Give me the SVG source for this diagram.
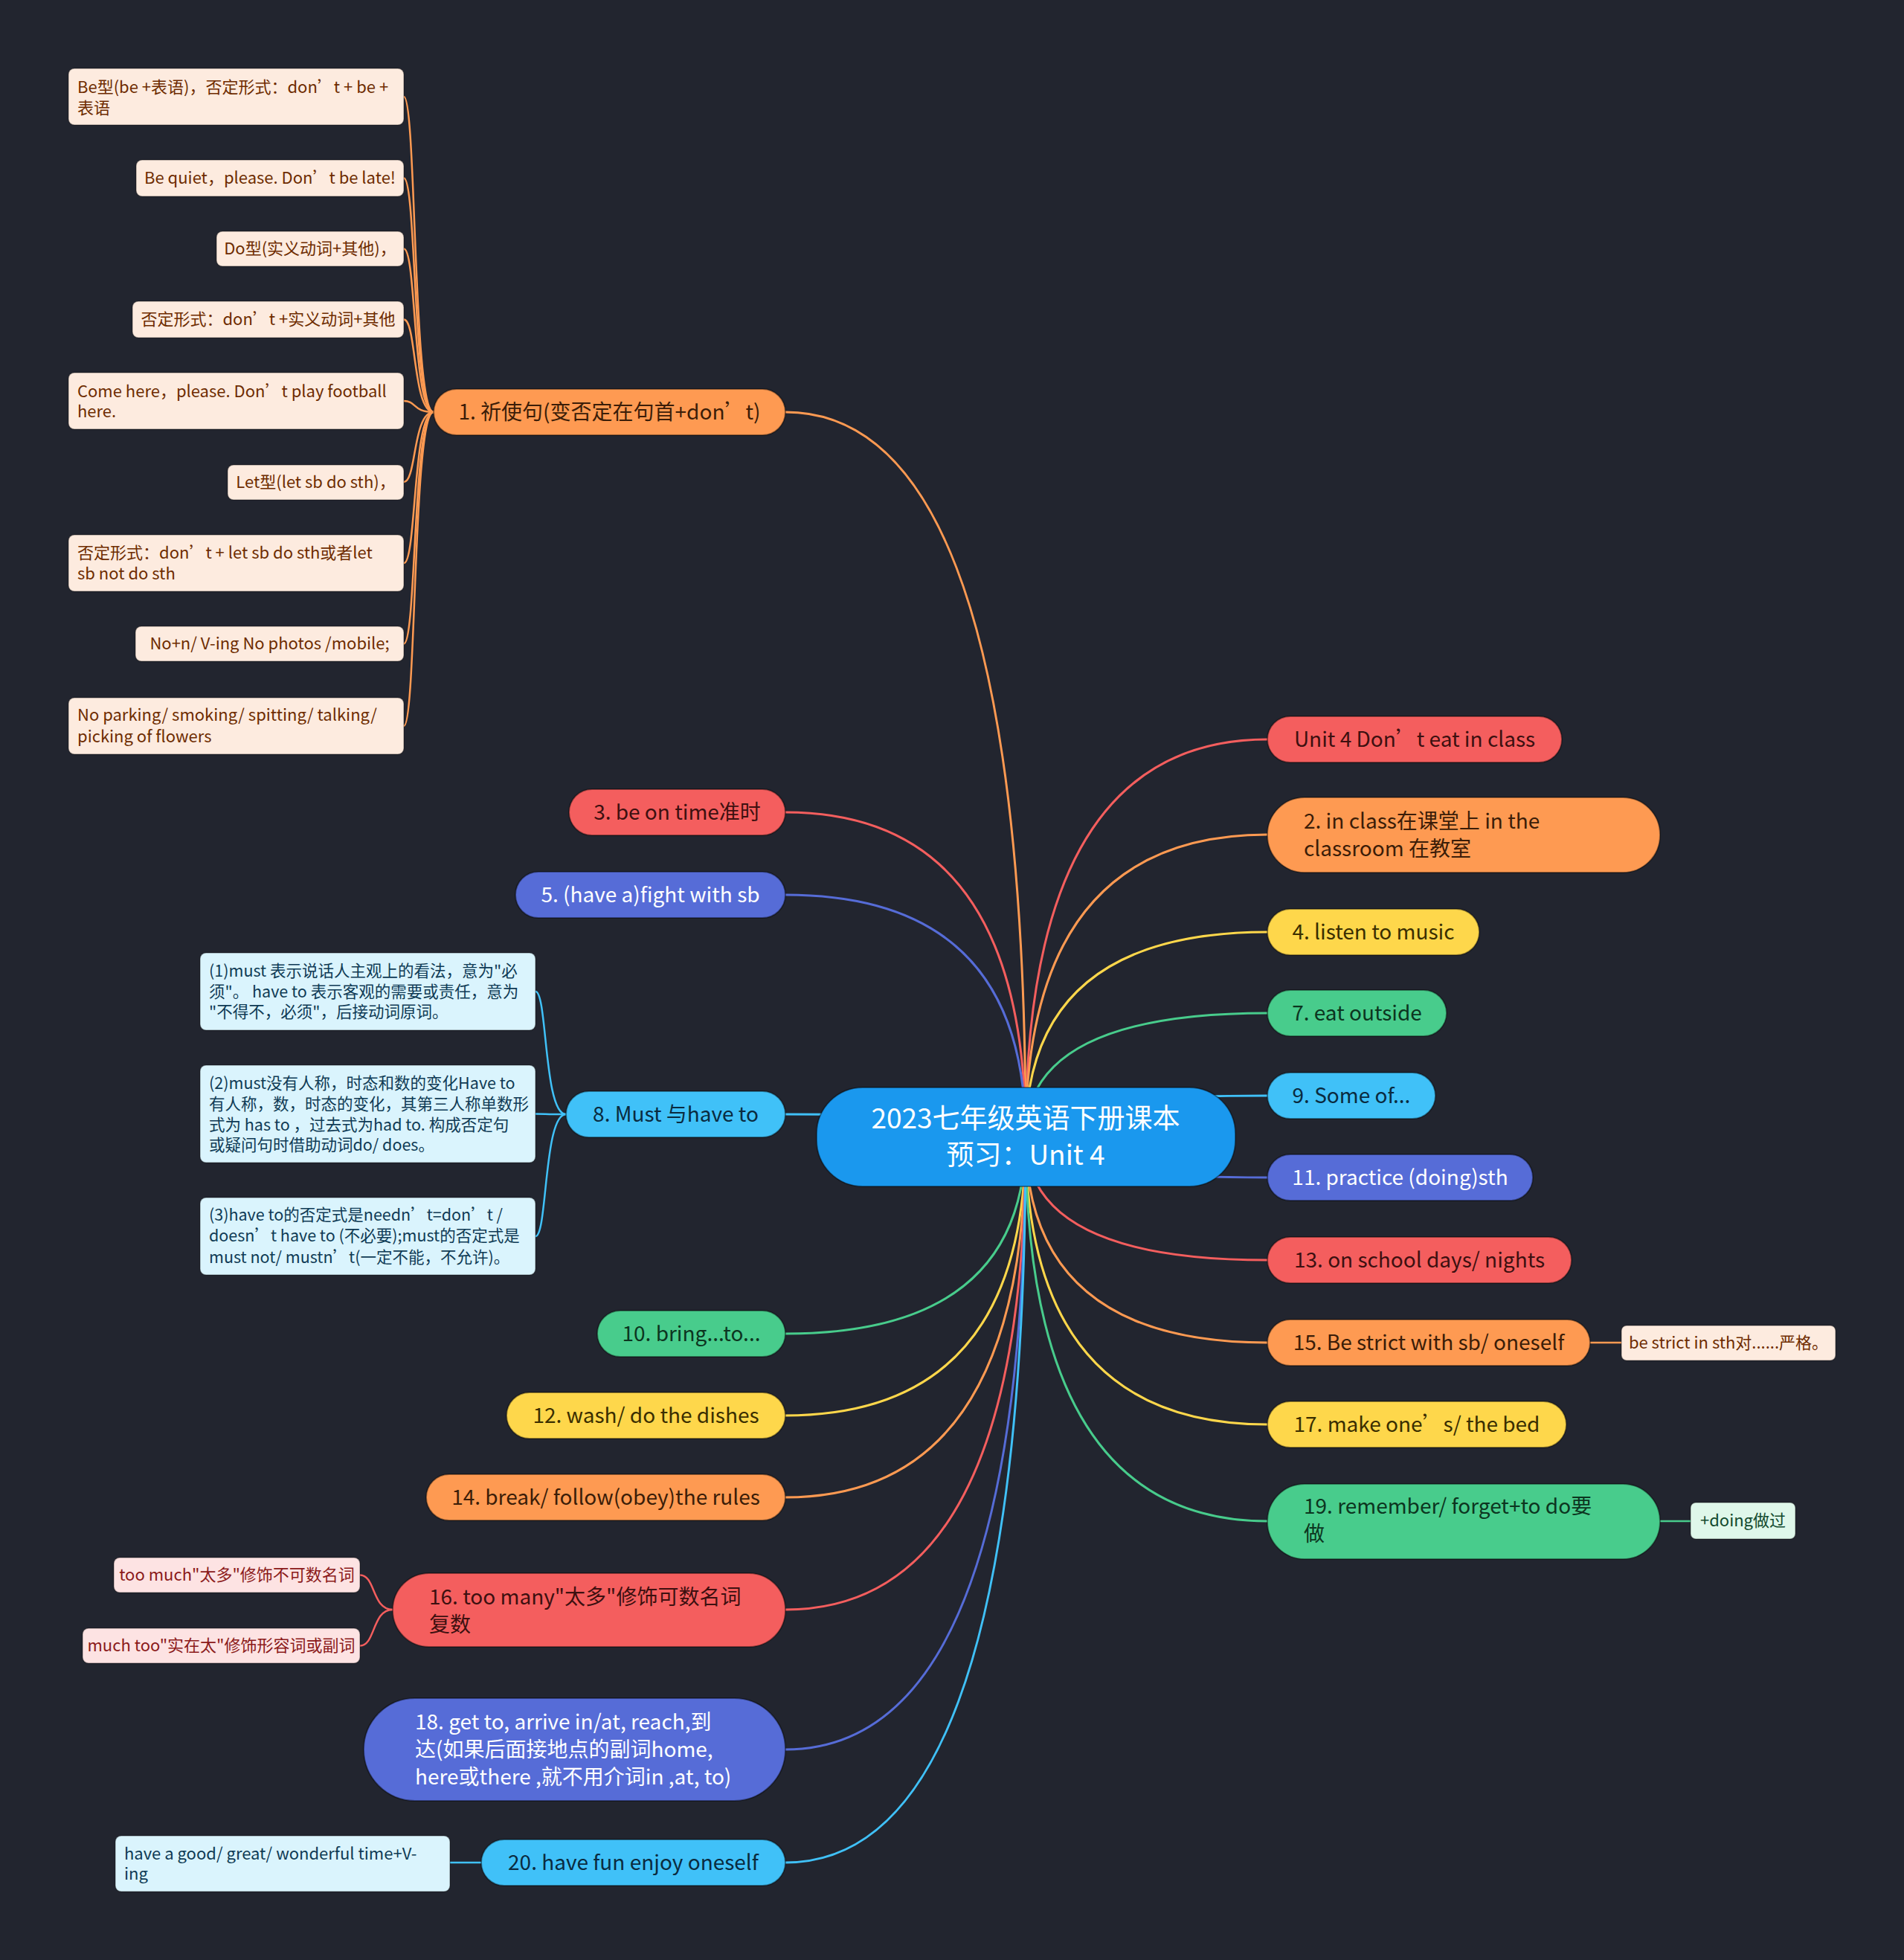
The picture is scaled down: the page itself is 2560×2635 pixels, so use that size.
<svg xmlns="http://www.w3.org/2000/svg" width="2560" height="2635" viewBox="0 0 2560 2635">
<style>
text{font-family:"Noto Sans CJK SC","Noto Sans",sans-serif}
.m{font-size:28px}
.c{font-size:37px;fill:#ffffff}
.l{font-size:22px}
.s{font-size:21.5px}
.mid{text-anchor:middle}
.red{fill:#f45e5e}
.ora{fill:#fe9a52}
.yel{fill:#fed74b}
.grn{fill:#48cc8c}
.lbl{fill:#40c1f8}
.ind{fill:#566cd7}
.nd{stroke:#000;stroke-opacity:.4;stroke-width:2}
.tr{fill:#3d1010}
.to{fill:#3b1d08}
.ty{fill:#3a2e00}
.tg{fill:#0c3520}
.tb{fill:#0a2b40}
.tw{fill:#ffffff}
.lo{fill:#fdebdf;stroke:#000;stroke-opacity:.3;stroke-width:1.5}
.lc{fill:#daf4fd;stroke:#000;stroke-opacity:.3;stroke-width:1.5}
.lp{fill:#fde3e3;stroke:#000;stroke-opacity:.3;stroke-width:1.5}
.lg{fill:#dff7ea;stroke:#000;stroke-opacity:.3;stroke-width:1.5}
.tlo{fill:#6e2c00}
.tlc{fill:#0f3b55}
.tlp{fill:#8b1a1a}
.tlg{fill:#124a2e}
.e{fill:none;stroke-width:3}
.se{fill:none;stroke-width:2.5}
</style>
<rect x="0" y="0" width="2560" height="2635" fill="#22252f"/>
<g id="connectors">
<path class="e" stroke="#f45e5e" d="M1379 1528 Q1379 994 1704 994"/>
<path class="e" stroke="#fe9a52" d="M1379 1528 Q1379 1122 1704 1122"/>
<path class="e" stroke="#fed74b" d="M1379 1528 Q1379 1253 1704 1253"/>
<path class="e" stroke="#48cc8c" d="M1379 1528 Q1379 1362 1704 1362"/>
<path class="e" stroke="#40c1f8" d="M1379 1528 Q1379 1473 1704 1473"/>
<path class="e" stroke="#566cd7" d="M1379 1528 Q1379 1583 1704 1583"/>
<path class="e" stroke="#f45e5e" d="M1379 1528 Q1379 1694 1704 1694"/>
<path class="e" stroke="#fe9a52" d="M1379 1528 Q1379 1805 1704 1805"/>
<path class="e" stroke="#fed74b" d="M1379 1528 Q1379 1915 1704 1915"/>
<path class="e" stroke="#48cc8c" d="M1379 1528 Q1379 2045 1704 2045"/>
<path class="e" stroke="#fe9a52" d="M1379 1528 Q1379 554 1056 554"/>
<path class="e" stroke="#f45e5e" d="M1379 1528 Q1379 1092 1056 1092"/>
<path class="e" stroke="#566cd7" d="M1379 1528 Q1379 1203 1056 1203"/>
<path class="e" stroke="#40c1f8" d="M1379 1528 Q1379 1498 1056 1498"/>
<path class="e" stroke="#48cc8c" d="M1379 1528 Q1379 1793 1056 1793"/>
<path class="e" stroke="#fed74b" d="M1379 1528 Q1379 1903 1056 1903"/>
<path class="e" stroke="#fe9a52" d="M1379 1528 Q1379 2013 1056 2013"/>
<path class="e" stroke="#f45e5e" d="M1379 1528 Q1379 2164 1056 2164"/>
<path class="e" stroke="#566cd7" d="M1379 1528 Q1379 2352 1056 2352"/>
<path class="e" stroke="#40c1f8" d="M1379 1528 Q1379 2504 1056 2504"/>
<g stroke="#fe9a52">
<path class="se" d="M583 554 C555 554 560 130 543 130"/>
<path class="se" d="M583 554 C555 554 560 239.5 543 239.5"/>
<path class="se" d="M583 554 C555 554 560 334.5 543 334.5"/>
<path class="se" d="M583 554 C555 554 560 429.5 543 429.5"/>
<path class="se" d="M583 554 C555 554 560 539 543 539"/>
<path class="se" d="M583 554 C555 554 560 648 543 648"/>
<path class="se" d="M583 554 C555 554 560 757 543 757"/>
<path class="se" d="M583 554 C555 554 560 865.5 543 865.5"/>
<path class="se" d="M583 554 C555 554 560 976 543 976"/>
<path class="se" d="M2138 1805 L2180 1805"/>
</g>
<g stroke="#40c1f8">
<path class="se" d="M761 1498 C731 1498 736 1333 720 1333"/>
<path class="se" d="M761 1498 C731 1498 736 1497.5 720 1497.5"/>
<path class="se" d="M761 1498 C731 1498 736 1662 720 1662"/>
<path class="se" d="M647 2504 L605 2504"/>
</g>
<g stroke="#f45e5e">
<path class="se" d="M528 2164 C500 2164 505 2117.5 484 2117.5"/>
<path class="se" d="M528 2164 C500 2164 505 2212.5 484 2212.5"/>
</g>
<path class="se" stroke="#48cc8c" d="M2232 2045 L2273 2045"/>
</g>
<g id="center">
<rect x="1098" y="1462" width="563" height="133" rx="62" fill="#1a98ee" class="nd"/>
<text class="c mid" x="1379" y="1517">2023七年级英语下册课本</text>
<text class="c mid" x="1379" y="1566">预习：Unit 4</text>
</g>
<g id="n-unit4"><rect class="red nd" x="1704" y="963" width="396" height="62" rx="31"/><text class="m mid tr" x="1902" y="1004">Unit 4 Don’t eat in class</text></g>
<g id="n2"><rect class="ora nd" x="1704" y="1072" width="528" height="101" rx="50"/><text class="m to" x="1753" y="1114">2. in class在课堂上 in the</text><text class="m to" x="1753" y="1151">classroom 在教室</text></g>
<g id="n4"><rect class="yel nd" x="1704" y="1222" width="285" height="62" rx="31"/><text class="m mid ty" x="1846.5" y="1263">4. listen to music</text></g>
<g id="n7"><rect class="grn nd" x="1704" y="1331" width="241" height="62" rx="31"/><text class="m mid tg" x="1824.5" y="1372">7. eat outside</text></g>
<g id="n9"><rect class="lbl nd" x="1704" y="1442" width="226" height="62" rx="31"/><text class="m mid tb" x="1817" y="1483">9. Some of...</text></g>
<g id="n11"><rect class="ind nd" x="1704" y="1552" width="357" height="62" rx="31"/><text class="m mid tw" x="1882.5" y="1593">11. practice (doing)sth</text></g>
<g id="n13"><rect class="red nd" x="1704" y="1663" width="409" height="62" rx="31"/><text class="m mid tr" x="1908.5" y="1704">13. on school days/ nights</text></g>
<g id="n15"><rect class="ora nd" x="1704" y="1774" width="434" height="62" rx="31"/><text class="m mid to" x="1921" y="1815">15. Be strict with sb/ oneself</text></g>
<g id="n15a"><rect class="lo" x="2180" y="1782" width="288" height="47" rx="7"/><text class="l mid tlo" x="2324" y="1813">be strict in sth对......严格。</text></g>
<g id="n17"><rect class="yel nd" x="1704" y="1884" width="402" height="62" rx="31"/><text class="m mid ty" x="1905" y="1925">17. make one’s/ the bed</text></g>
<g id="n19"><rect class="grn nd" x="1704" y="1995" width="528" height="101" rx="50"/><text class="m tg" x="1753" y="2035">19. remember/ forget+to do要</text><text class="m tg" x="1753" y="2072">做</text></g>
<g id="n19a"><rect class="lg" x="2273" y="2020" width="141" height="49" rx="7"/><text class="l mid tlg" x="2343.5" y="2052">+doing做过</text></g>
<g id="n1"><rect class="ora nd" x="583" y="523" width="473" height="62" rx="31"/><text class="m mid to" x="819.5" y="564">1. 祈使句(变否定在句首+don’t)</text></g>
<g id="n1a"><rect class="lo" x="92" y="92" width="451" height="76" rx="8"/><text class="l tlo" x="104" y="125">Be型(be +表语)，否定形式：don’t + be +</text><text class="l tlo" x="104" y="153">表语</text></g>
<g id="n1b"><rect class="lo" x="183" y="215" width="360" height="49" rx="8"/><text class="l mid tlo" x="363" y="247">Be quiet，please. Don’t be late!</text></g>
<g id="n1c"><rect class="lo" x="291" y="311" width="252" height="47" rx="8"/><text class="l mid tlo" x="417" y="342">Do型(实义动词+其他)，</text></g>
<g id="n1d"><rect class="lo" x="178" y="405" width="365" height="49" rx="8"/><text class="l mid tlo" x="360.5" y="437">否定形式：don’t +实义动词+其他</text></g>
<g id="n1e"><rect class="lo" x="92" y="501" width="451" height="76" rx="8"/><text class="l tlo" x="104" y="534">Come here，please. Don’t play football</text><text class="l tlo" x="104" y="561">here.</text></g>
<g id="n1f"><rect class="lo" x="306" y="625" width="237" height="47" rx="8"/><text class="l mid tlo" x="424.5" y="656">Let型(let sb do sth)，</text></g>
<g id="n1g"><rect class="lo" x="92" y="719" width="451" height="76" rx="8"/><text class="l tlo" x="104" y="751">否定形式：don’t + let sb do sth或者let</text><text class="l tlo" x="104" y="779">sb not do sth</text></g>
<g id="n1h"><rect class="lo" x="182" y="842" width="361" height="47" rx="8"/><text class="l mid tlo" x="362.5" y="873">No+n/ V-ing No photos /mobile;</text></g>
<g id="n1i"><rect class="lo" x="92" y="938" width="451" height="76" rx="8"/><text class="l tlo" x="104" y="969">No parking/ smoking/ spitting/ talking/</text><text class="l tlo" x="104" y="998">picking of flowers</text></g>
<g id="n3"><rect class="red nd" x="765" y="1061" width="291" height="62" rx="31"/><text class="m mid tr" x="910.5" y="1102">3. be on time准时</text></g>
<g id="n5"><rect class="ind nd" x="693" y="1172" width="363" height="62" rx="31"/><text class="m mid tw" x="874.5" y="1213">5. (have a)fight with sb</text></g>
<g id="n8"><rect class="lbl nd" x="761" y="1467" width="295" height="62" rx="31"/><text class="m mid tb" x="908.5" y="1508">8. Must 与have to</text></g>
<g id="n8a"><rect class="lc" x="269" y="1281" width="451" height="104" rx="8"/><text class="s tlc" x="281" y="1313">(1)must 表示说话人主观上的看法，意为"必</text><text class="s tlc" x="281" y="1341">须"。 have to 表示客观的需要或责任，意为</text><text class="s tlc" x="281" y="1368">"不得不，必须"，后接动词原词。</text></g>
<g id="n8b"><rect class="lc" x="269" y="1432" width="451" height="131" rx="8"/><text class="s tlc" x="281" y="1464">(2)must没有人称，时态和数的变化Have to</text><text class="s tlc" x="281" y="1492">有人称，数，时态的变化，其第三人称单数形</text><text class="s tlc" x="281" y="1520">式为 has to ，过去式为had to. 构成否定句</text><text class="s tlc" x="281" y="1547">或疑问句时借助动词do/ does。</text></g>
<g id="n8c"><rect class="lc" x="269" y="1610" width="451" height="104" rx="8"/><text class="s tlc" x="281" y="1641">(3)have to的否定式是needn’t=don’t /</text><text class="s tlc" x="281" y="1669">doesn’t have to (不必要);must的否定式是</text><text class="s tlc" x="281" y="1698">must not/ mustn’t(一定不能，不允许)。</text></g>
<g id="n10"><rect class="grn nd" x="803" y="1762" width="253" height="62" rx="31"/><text class="m mid tg" x="929.5" y="1803">10. bring...to...</text></g>
<g id="n12"><rect class="yel nd" x="681" y="1872" width="375" height="62" rx="31"/><text class="m mid ty" x="868.5" y="1913">12. wash/ do the dishes</text></g>
<g id="n14"><rect class="ora nd" x="573" y="1982" width="483" height="62" rx="31"/><text class="m mid to" x="814.5" y="2023">14. break/ follow(obey)the rules</text></g>
<g id="n16"><rect class="red nd" x="528" y="2115" width="528" height="99" rx="49"/><text class="m tr" x="577" y="2157">16. too many"太多"修饰可数名词</text><text class="m tr" x="577" y="2194">复数</text></g>
<g id="n16a"><rect class="lp" x="153" y="2094" width="331" height="47" rx="8"/><text class="l mid tlp" x="318.5" y="2125">too much"太多"修饰不可数名词</text></g>
<g id="n16b"><rect class="lp" x="111" y="2189" width="373" height="47" rx="8"/><text class="l mid tlp" x="297.5" y="2220">much too"实在太"修饰形容词或副词</text></g>
<g id="n18"><rect class="ind nd" x="489" y="2283" width="567" height="138" rx="69"/><text class="m tw" x="558" y="2325">18. get to, arrive in/at, reach,到</text><text class="m tw" x="558" y="2362">达(如果后面接地点的副词home,</text><text class="m tw" x="558" y="2399">here或there ,就不用介词in ,at, to)</text></g>
<g id="n20"><rect class="lbl nd" x="647" y="2473" width="409" height="62" rx="31"/><text class="m mid tb" x="851.5" y="2514">20. have fun enjoy oneself</text></g>
<g id="n20a"><rect class="lc" x="155" y="2468" width="450" height="75" rx="8"/><text class="l tlc" x="167" y="2500">have a good/ great/ wonderful time+V-</text><text class="l tlc" x="167" y="2527">ing</text></g>
</svg>
